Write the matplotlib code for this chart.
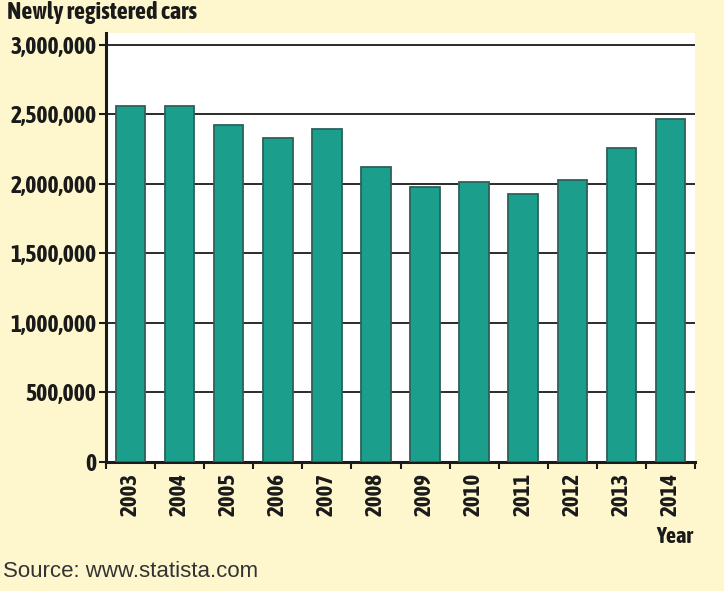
import matplotlib
matplotlib.use("Agg")
import matplotlib.pyplot as plt
from matplotlib.ticker import FuncFormatter, FixedLocator

years = ["2003", "2004", "2005", "2006", "2007", "2008", "2009", "2010", "2011", "2012", "2013", "2014"]
registrations = [2563000, 2559000, 2427000, 2331000, 2396000, 2120000, 1980000, 2016000, 1925000, 2030000, 2256000, 2468000]
yticks = [0, 500000, 1000000, 1500000, 2000000, 2500000, 3000000]

BG = "#FEF7CE"
BAR = "#1B9E8B"
EDGE = "#2D615B"
COND = ["Asap Condensed", "DejaVu Sans"]
FONT = ["Liberation Sans", "DejaVu Sans"]

fig = plt.figure(figsize=(7.24, 5.91), dpi=100, facecolor=BG)
ax = fig.add_axes([106/724, (591-462)/591, (695-106)/724, (462-33)/591])
ax.set_facecolor("white")

x = list(range(len(years)))
ax.bar(x, registrations, width=0.6, color=BAR, edgecolor=EDGE, linewidth=1.3, zorder=3)

ax.set_xlim(-0.5, len(years) - 0.5)
ax.set_ylim(0, 3086000)
ax.set_yticks(yticks)
ax.yaxis.set_major_formatter(FuncFormatter(lambda v, p: f"{int(v):,}"))
for t in yticks[1:]:
    ax.axhline(t, color="#1a1a1a", linewidth=1.3, zorder=1)

ax.set_xticks(x)
ax.set_xticklabels(years, rotation=90, va="top", ha="center")
ax.xaxis.set_minor_locator(FixedLocator([i + 0.5 for i in range(-1, len(years))]))
ax.tick_params(axis="x", which="major", length=0, pad=8)
ax.tick_params(axis="x", which="minor", length=5, width=1.5, color="#1a1a1a", direction="out")
ax.tick_params(axis="y", length=5, width=1.5, color="#1a1a1a", pad=2)

for lab in ax.get_xticklabels():
    lab.set_family(COND)
    lab.set_weight("bold")
    lab.set_fontsize(16.5)
    lab.set_color("#1a1a1a")
for lab in ax.get_yticklabels():
    lab.set_family(COND)
    lab.set_weight("bold")
    lab.set_fontsize(17)
    lab.set_color("#1a1a1a")

for s in ["top", "right"]:
    ax.spines[s].set_visible(False)
for s in ["left", "bottom"]:
    ax.spines[s].set_linewidth(2.2)
    ax.spines[s].set_color("#1a1a1a")

fig.text(7/724, (591-19)/591, "Newly registered cars", family=COND, weight="bold",
         fontsize=17.5, color="#1a1a1a", ha="left", va="baseline")
fig.text(693/724, (591-543)/591, "Year", family=COND, weight="bold",
         fontsize=16, color="#1a1a1a", ha="right", va="baseline")
fig.text(3/724, (591-577)/591, "Source: www.statista.com", family=FONT,
         fontsize=16, color="#333333", ha="left", va="baseline")

fig.savefig("out.png", dpi=100, facecolor=BG)
